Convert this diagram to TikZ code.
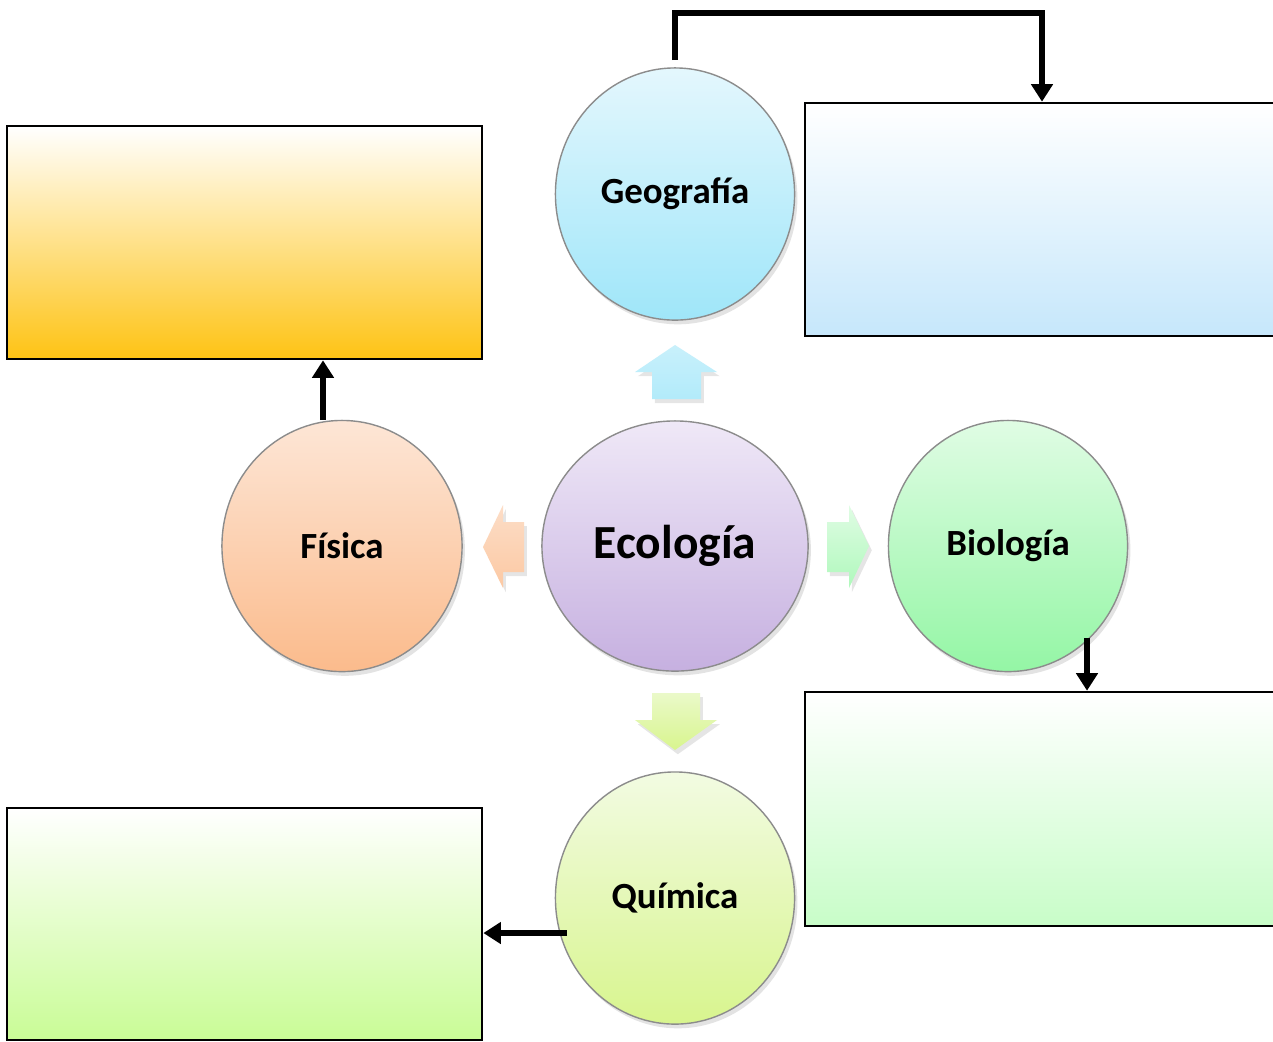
\documentclass[tikz,border=0pt]{standalone}
\usepackage{fontspec}
\setmainfont{Carlito}
\usetikzlibrary{shapes.geometric,arrows.meta,shadows,calc}
\definecolor{geoTop}{HTML}{E4F7FD}\definecolor{geoBot}{HTML}{9FE6F9}
\definecolor{fisTop}{HTML}{FDE6D6}\definecolor{fisBot}{HTML}{FBBB8C}
\definecolor{ecoTop}{HTML}{EFE8F7}\definecolor{ecoBot}{HTML}{C6B0E0}
\definecolor{bioTop}{HTML}{E0FCE4}\definecolor{bioBot}{HTML}{94F6A5}
\definecolor{quiTop}{HTML}{F2FBE2}\definecolor{quiBot}{HTML}{D8F58E}
\definecolor{orMid}{HTML}{FCE9D0}\definecolor{orBot}{HTML}{FEC314}
\definecolor{blMid}{HTML}{EAF6FD}\definecolor{blBot}{HTML}{C6E7FB}
\definecolor{grMid}{HTML}{E9FDE9}\definecolor{grBot}{HTML}{C8FDC8}
\definecolor{ygMid}{HTML}{E8FBD6}\definecolor{ygBot}{HTML}{C9FC96}
\begin{document}
\begin{tikzpicture}[x=0.01cm,y=-0.01cm,
  topic/.style={ellipse, draw=black!45, line width=0.4pt, inner sep=0pt,
    font=\bfseries\fontsize{10.5}{12}\selectfont,
    drop shadow={shadow xshift=0.8pt, shadow yshift=-1.2pt, opacity=0.22}},
  infobox/.style={draw=black, line width=0.7pt, inner sep=0pt},
  conn/.style={line width=1.6pt, -{Triangle[length=5pt,width=6pt]}},
  blk/.style={draw=none, drop shadow={shadow xshift=0.8pt, shadow yshift=-1.2pt, opacity=0.2}}
]
\useasboundingbox (0,0) rectangle (1273,1041);
\clip (0,0) rectangle (1273,1041);
\fill[white] (0,0) rectangle (1273,1041);

% boxes
\node[infobox, minimum width=4.75cm, minimum height=2.33cm,
  top color=white, middle color=orMid, bottom color=orBot] (boxF) at (244.5,242.5) {};
\node[infobox, minimum width=4.74cm, minimum height=2.33cm,
  top color=white, middle color=blMid, bottom color=blBot] (boxG) at (1042,219.5) {};
\node[infobox, minimum width=4.74cm, minimum height=2.34cm,
  top color=white, middle color=grMid, bottom color=grBot] (boxB) at (1042,809) {};
\node[infobox, minimum width=4.75cm, minimum height=2.32cm,
  top color=white, middle color=ygMid, bottom color=ygBot] (boxQ) at (244.5,924) {};

% circles
\node[topic, minimum width=2.66cm, minimum height=2.5cm, top color=ecoTop, bottom color=ecoBot,
  font=\bfseries\fontsize{13.5}{15}\selectfont] (eco) at (675,546) {Ecología};
\node[topic, minimum width=2.39cm, minimum height=2.52cm, top color=geoTop, bottom color=geoBot] (geo) at (675,194) {Geografía};
\node[topic, minimum width=2.4cm, minimum height=2.51cm, top color=fisTop, bottom color=fisBot] (fis) at (342,546) {Física};
\node[topic, minimum width=2.39cm, minimum height=2.51cm, top color=bioTop, bottom color=bioBot] (bio) at (1008,546) {Biología};
\node[topic, minimum width=2.39cm, minimum height=2.52cm, top color=quiTop, bottom color=quiBot] (qui) at (675,898) {Química};

% block arrows
\path[blk, top color=geoTop!60!geoBot, bottom color=geoBot!80] (675,345) -- (717,372) -- (701,372) -- (701,399) -- (652,399) -- (652,372) -- (635,372) -- cycle;
\path[blk, top color=fisTop!80!fisBot, bottom color=fisBot!80] (483,547) -- (503,505) -- (503,522) -- (524,522) -- (524,572) -- (503,572) -- (503,588) -- cycle;
\path[blk, top color=bioTop, bottom color=bioBot!75] (869,546) -- (849,505) -- (849,522) -- (827,522) -- (827,572) -- (849,572) -- (849,588) -- cycle;
\path[blk, top color=quiTop!70!quiBot, bottom color=quiBot] (675,750) -- (717,720) -- (700,720) -- (700,693) -- (652,693) -- (652,720) -- (635,720) -- cycle;

% connectors
\coordinate (g1) at (675,60);
\draw[conn] (g1) -- ++(0,-47) -| (boxG.north);
\coordinate (f1) at (323,420);
\draw[conn] (f1) -- (f1 |- boxF.south);
\coordinate (b1) at (1087,638);
\draw[conn] (b1) -- (b1 |- boxB.north);
\coordinate (q1) at (567,933);
\draw[conn] (q1) -- (q1 -| boxQ.east);
\end{tikzpicture}
\end{document}
